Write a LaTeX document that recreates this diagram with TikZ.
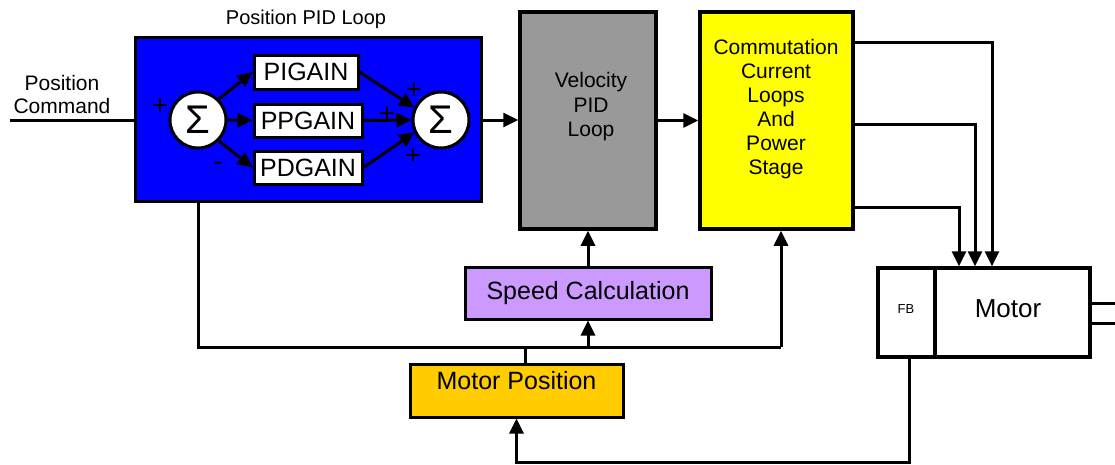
\documentclass[tikz,border=0pt]{standalone}
\usepackage{fontspec}
\setmainfont{Liberation Sans}
\usetikzlibrary{arrows.meta}
\definecolor{pblue}{HTML}{0000FF}
\definecolor{pgray}{HTML}{999999}
\definecolor{pyellow}{HTML}{FFFF00}
\definecolor{ppurple}{HTML}{CC99FF}
\definecolor{porange}{HTML}{FFCC00}
\newcommand{\fs}[1]{\fontsize{#1}{#1}\selectfont}
\tikzset{
  box/.style={draw=black, line width=3.5pt, inner sep=0pt, rectangle},
  gainbox/.style={box, fill=white, line width=3pt, font=\fs{25}},
  sumnode/.style={draw=black, fill=white, circle, line width=3pt, minimum size=56pt, inner sep=0pt, font=\fs{40}},
  wire/.style={line width=3pt, draw=black},
  arr/.style={wire, -{Triangle[length=15pt,width=14pt]}},
  sign/.style={font=\fs{27}, inner sep=0pt},
  txt/.style={inner sep=0pt, align=center}
}
\begin{document}
\begin{tikzpicture}[x=1pt,y=-1pt]
\useasboundingbox (0,0) rectangle (1115,464);
\fill[white] (0,0) rectangle (1115,464);

% title and input label
\node[txt, font=\fs{20}] (title) at (306,19) {Position PID Loop};
\node[txt, font=\fontsize{21}{23}\selectfont] (cmd) at (62,94) {Position\\Command};

% position PID loop
\node[box, fill=pblue, minimum width=346pt, minimum height=164pt] (blue) at (308.5,119.5) {};
\node[sumnode] (s1) at (198,120) {Σ};
\node[sumnode] (s2) at (441,120) {Σ};
\node[gainbox, minimum width=104pt, minimum height=34pt] (pi) at (306,72) {PIGAIN};
\node[gainbox, minimum width=108pt, minimum height=33pt] (pp) at (308,120.5) {PPGAIN};
\node[gainbox, minimum width=108pt, minimum height=33pt] (pd) at (308,167.5) {PDGAIN};

\draw[arr] (s1.45) -- (pi.west);
\draw[arr] (s1.east) -- (pp.west);
\draw[arr] (s1.-45) -- (pd.west);
\draw[arr] (pi.east) -- (s2.155);
\draw[arr] (pp.east) -- (s2.west);
\draw[arr] (pd.east) -- (s2.205);

\node[sign] (p1) at (160,107) {+};
\node[sign] (m1) at (218,166) {-};
\node[sign] (p2) at (414,91) {+};
\node[sign] (p3) at (387,115) {+};
\node[sign] (p4) at (413,157) {+};

% velocity loop and power stage
\node[box, fill=pgray, minimum width=136pt, minimum height=217pt] (vel) at (588,120.5) {};
\node[txt, font=\fontsize{21}{24.5}\selectfont] (veltxt) at (591,107) {Velocity\\PID\\Loop};
\node[box, fill=pyellow, minimum width=153pt, minimum height=217pt] (yel) at (776.5,120.5) {};
\node[txt, font=\fontsize{21}{24}\selectfont] (yeltxt) at (776,109) {Commutation\\Current\\Loops\\And\\Power\\Stage};

% motor
\node[box, fill=white, minimum width=57pt, minimum height=89pt] (fb) at (906.5,312.5) {};
\node[box, fill=white, minimum width=155pt, minimum height=89pt] (motor) at (1012.5,312.5) {};
\node[txt, font=\fs{13}] (fbtxt) at (906,309) {FB};
\node[txt, font=\fs{26}] (mtxt) at (1008,309) {Motor};
\coordinate (sh1) at (1115,303);
\coordinate (sh2) at (1115,323);
\draw[wire] (motor.east |- sh1) -- (sh1);
\draw[wire] (motor.east |- sh2) -- (sh2);

% speed and position
\node[box, fill=ppurple, line width=3pt, minimum width=246pt, minimum height=52pt] (speed) at (588,293) {};
\node[txt, font=\fs{25}] (speedtxt) at (588,293) {Speed Calculation};
\node[box, fill=porange, line width=3pt, minimum width=213pt, minimum height=53pt] (mpos) at (516.5,390.5) {};
\node[txt, font=\fs{25}] (mpostxt) at (516.5,381) {Motor Position};

% forward path
\coordinate (in) at (10,120);
\draw[wire] (in) -- (blue.west |- in);
\draw[arr] (blue.east |- s2.east) -- (vel.west |- s2.east);
\draw[arr] (vel.east) -- (yel.west);

% outputs to motor
\coordinate (o1) at (992,42);
\coordinate (o2) at (975,124);
\coordinate (o3) at (959,207);
\draw[arr] (yel.east |- o1) -| (o1 |- motor.north);
\draw[arr] (yel.east |- o2) -| (o2 |- motor.north);
\draw[arr] (yel.east |- o3) -| (o3 |- motor.north);

% feedback bus
\coordinate (bl) at (198,347);
\coordinate (br) at (781,347);
\coordinate (bm) at (525,347);
\coordinate (bs) at (588,347);
\draw[wire] (bl |- blue.south) -- (bl) -- (br);
\draw[arr] (br) -- (br |- yel.south);
\draw[wire] (bm |- mpos.north) -- (bm);
\draw[arr] (bs) -- (speed.south);
\draw[arr] (speed.north) -- (vel.south);

% encoder feedback
\coordinate (fbl) at (909,462);
\draw[arr] (fbl |- fb.south) -- (fbl) -| (mpos.south);
\end{tikzpicture}
\end{document}
